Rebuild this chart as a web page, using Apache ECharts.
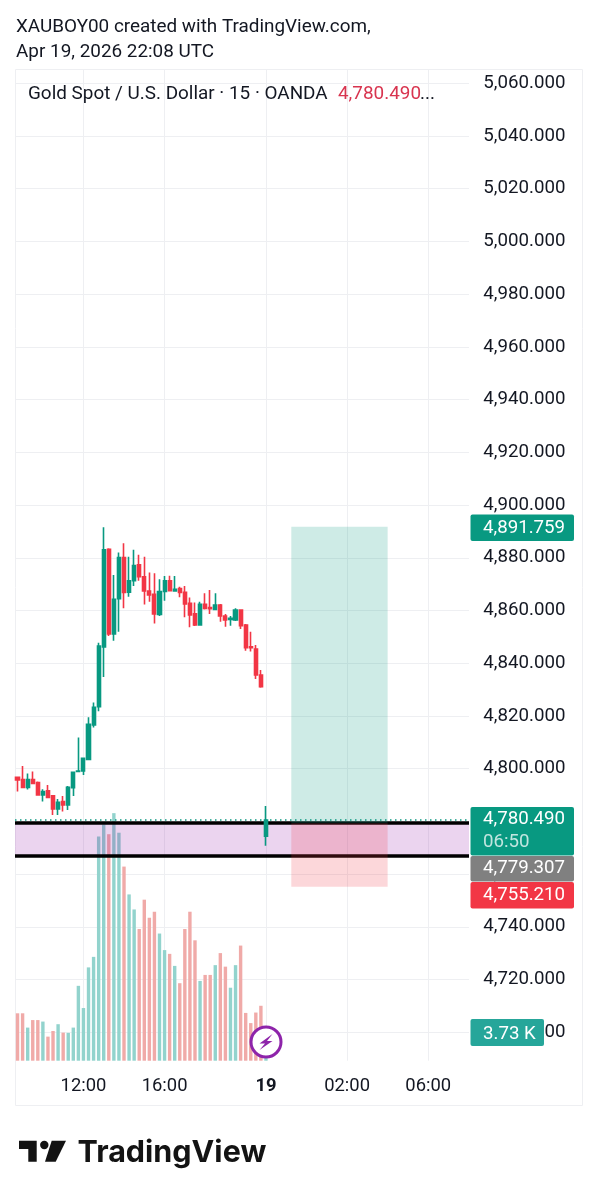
<!DOCTYPE html>
<html><head><meta charset="utf-8">
<style>html,body{margin:0;padding:0;background:#fff}#c{width:598px;height:1200px}</style>
<script src="https://cdn.jsdelivr.net/npm/echarts@6/dist/echarts.min.js"></script>
</head><body><div id="c"></div>
<script>
const opens=[4796.7,4795.9,4792.9,4795.9,4794.7,4790.0,4791.6,4789.7,4784.7,4787.5,4786.2,4792.8,4798.9,4799.1,4803.5,4816.6,4823.5,4846.2,4883.2,4851.1,4864.5,4880.1,4866.9,4871.3,4877.3,4872.8,4867.4,4866.1,4858.5,4867.2,4871.3,4867.4,4868.3,4866.9,4862.7,4858.7,4854.5,4862.3,4861.1,4860.4,4862.1,4857.9,4856.6,4856.4,4860.2,4854.5,4846.2,4845.4,4835.5,4774.4];
const closes=[4795.7,4792.9,4795.9,4794.4,4790.0,4791.3,4789.1,4784.7,4787.2,4786.2,4792.9,4798.6,4799.1,4803.9,4816.8,4823.3,4846.5,4883.0,4851.1,4864.2,4880.1,4866.8,4871.3,4877.0,4872.8,4867.4,4865.9,4858.7,4867.2,4871.3,4867.5,4868.0,4866.8,4862.5,4858.3,4854.5,4862.3,4860.8,4860.7,4862.1,4857.9,4856.4,4857.0,4860.2,4854.2,4845.9,4845.9,4835.5,4831.1,4780.49];
const lows=[4791.3,4792.9,4792.1,4794.2,4790.0,4787.5,4789.0,4782.4,4782.4,4783.7,4784.3,4789.6,4798.9,4797.6,4803.3,4815.6,4821.8,4834.8,4850.3,4848.5,4851.9,4860.8,4865.2,4869.3,4871.3,4862.3,4863.3,4855.1,4857.9,4863.7,4867.4,4867.4,4865.0,4857.4,4853.6,4854.1,4854.5,4860.4,4858.7,4860.2,4855.7,4853.8,4854.2,4856.0,4853.0,4844.7,4844.4,4834.0,4830.7,4770.7];
const highs=[4796.7,4801.0,4798.2,4798.9,4795.1,4792.2,4793.8,4789.7,4788.5,4789.6,4793.4,4798.9,4811.8,4803.9,4819.5,4825.1,4847.8,4891.6,4883.6,4873.5,4882.0,4885.5,4880.4,4883.0,4881.1,4880.4,4874.4,4874.1,4871.8,4873.1,4873.2,4873.1,4869.0,4869.3,4864.9,4863.0,4863.3,4866.5,4867.8,4866.5,4862.5,4858.7,4857.9,4860.8,4860.2,4854.9,4851.9,4846.9,4837.4,4785.8];
const volumes=[6300,6300,4400,5400,5400,5200,3200,3950,4850,3730,3700,4400,9950,7000,12400,13800,29800,31400,30100,32900,30300,25800,22100,20100,17500,21400,19000,19800,16900,14700,14200,12600,10300,17500,19800,16000,10600,11400,11400,12700,14300,12500,9700,12700,15300,6350,5000,6400,7300,3730];
const tickIndexes=[13,29,49,65,81];
const tickNames=['12:00','16:00','19','02:00','06:00'];
const priceTicks=[5060,5040,5020,5000,4980,4960,4940,4920,4900,4880,4860,4840,4820,4800,4780,4760,4740,4720,4700];
const lastPrice=4780.49, targetPrice=4891.759, entryPrice=4779.307, stopPrice=4755.21, zoneLow=4767.1;
const zoneFrom=54, zoneTo=73, categoryCount=90;

const UP='#089981',DOWN='#f23645',GRID='#eeeff2',INK='#131722',F='Roboto';
const categories=Array.from({length:categoryCount},(_,i)=>{const k=tickIndexes.indexOf(i);return k>=0?tickNames[k]:'';});
const candles=opens.map((o,i)=>[o,closes[i],lows[i],highs[i]]);
const volData=volumes.map((v,i)=>({value:v,itemStyle:{color:closes[i]>=opens[i]?'#92d3cd':'#f0aaa8'}}));

function txt(text,x,y,size,fill,extra){return {type:'text',z:110,silent:true,style:Object.assign({text,x,y,fill,font:`${size}px ${F}`,verticalAlign:'middle'},extra||{})};}
function rect(x,y,w,h,fill,r){return {type:'rect',z:100,silent:true,shape:{x,y,width:w,height:h,r:r||0},style:{fill}};}
const fmt=v=>v.toLocaleString('en-US',{minimumFractionDigits:3,maximumFractionDigits:3});

const graphic=[
 {type:'rect',z:-1,silent:true,shape:{x:15.5,y:69.5,width:567,height:1036},style:{fill:'none',stroke:GRID,lineWidth:1}},
 rect(469,70,3,991,'#ffffff'),
 txt('XAUBOY00 created with TradingView.com,',16,27,18.9,INK),
 txt('Apr 19, 2026 22:08 UTC',16,52,18.9,INK),
 txt('Gold Spot / U.S. Dollar · 15 · OANDA',28,94,18.9,INK),
 txt(fmt(lastPrice),338,94,18.9,'#d8344f'),
 txt('...',420,94,18.9,INK),
 rect(470.5,514.5,103.5,26.5,UP,2), txt(fmt(targetPrice),483,528,18.7,'#ffffff'),
 rect(470.5,807,103.5,48.5,UP,2), txt(fmt(lastPrice),483,819,18.7,'#ffffff'), txt('06:50',483,842,18.7,'rgba(255,255,255,0.75)'),
 rect(470.5,856,103.5,25.5,'#808080',2), txt(fmt(entryPrice),483,868.5,18.7,'#ffffff'),
 rect(470.5,882,103.5,26.5,'#f23645',2), txt(fmt(stopPrice),483,895,18.7,'#ffffff'),
 rect(470.5,1019,73.5,27,'#26a69a',2), txt('3.73 K',483,1034,18.7,'#ffffff'),
 {type:'circle',z:105,silent:true,shape:{cx:266,cy:1042,r:15},style:{fill:'#ffffff',stroke:'#8e24aa',lineWidth:3}},
 {type:'polygon',z:106,silent:true,shape:{points:[[272.5,1034],[259.5,1043.5],[265,1043.5],[259.5,1050],[272.5,1041],[267,1041]]},style:{fill:'#8e24aa'}},
 {type:'polygon',z:100,silent:true,shape:{points:[[19,1140.7],[36.7,1140.7],[36.7,1161.7],[28.3,1161.7],[28.3,1149],[19,1149]]},style:{fill:'#131313'}},
 {type:'circle',z:100,silent:true,shape:{cx:44.3,cy:1145,r:4.2},style:{fill:'#131313'}},
 {type:'polygon',z:100,silent:true,shape:{points:[[51.7,1140.7],[66,1140.7],[55.7,1161.7],[45,1161.7]]},style:{fill:'#131313'}},
 {type:'text',z:100,silent:true,style:{text:'TradingView',x:77.5,y:1153,fill:'#131313',font:`700 30.5px Inter`,verticalAlign:'middle'}}
];

const option={
 animation:false,backgroundColor:'#ffffff',
 grid:{left:15,top:69,width:456.3,height:991.7,containLabel:false},
 xAxis:{type:'category',data:categories,boundaryGap:true,
  axisLine:{show:false},axisTick:{show:false},splitLine:{show:false},
  axisLabel:{interval:i=>tickIndexes.includes(i),margin:17,color:INK,fontFamily:F,fontSize:18.4,
   formatter:v=>v==='19'?'{b|19}':v,rich:{b:{fontFamily:F,fontSize:18.4,fontWeight:'bold',color:INK}}}},
 yAxis:[
  {type:'value',position:'right',min:4689.2,max:5065.42,scale:true,z:0,
   axisLine:{show:false},axisTick:{show:false,customValues:priceTicks},
   splitLine:{show:true,lineStyle:{color:GRID,width:1}},
   axisLabel:{customValues:priceTicks,margin:12,padding:[2,0,0,0],color:INK,fontFamily:F,fontSize:18.7,formatter:v=>fmt(v)}},
  {type:'value',min:0,max:131800,show:false,splitLine:{show:false}}
 ],
 series:[
  {name:'gridlines',type:'line',data:[],z:0,
   markLine:{z:0,symbol:['none','none'],silent:true,label:{show:false},lineStyle:{color:GRID,width:1,type:'solid'},
    data:tickIndexes.map(i=>({xAxis:i}))}},
  {name:'volume',type:'bar',yAxisIndex:1,data:volData,barWidth:3.4,z:1},
  {name:'zone',type:'line',data:[],z:2,
   markArea:{z:2,silent:true,itemStyle:{color:'rgba(156,39,176,0.2)'},data:[[{yAxis:entryPrice},{yAxis:zoneLow}]]},
   markLine:{z:2,symbol:['none','none'],silent:true,label:{show:false},lineStyle:{color:'#000000',width:3.5,type:'solid'},
    data:[{yAxis:entryPrice},{yAxis:zoneLow}]}},
  {name:'price',type:'candlestick',data:candles,barWidth:3.6,z:3,
   itemStyle:{color:UP,color0:DOWN,borderColor:UP,borderColor0:DOWN,borderWidth:1.6}},
  {name:'target',type:'line',data:[],z:4,
   markArea:{z:4,silent:true,itemStyle:{color:'rgba(8,153,129,0.2)'},data:[[{xAxis:zoneFrom,yAxis:targetPrice},{xAxis:zoneTo,yAxis:entryPrice}]]}},
  {name:'stop',type:'line',data:[],z:4,
   markArea:{z:4,silent:true,itemStyle:{color:'rgba(242,54,69,0.2)'},data:[[{xAxis:zoneFrom,yAxis:entryPrice},{xAxis:zoneTo,yAxis:stopPrice}]]}},
  {name:'last',type:'line',data:[],z:5,
   markLine:{z:5,symbol:['none','none'],silent:true,label:{show:false},lineStyle:{color:UP,width:1.5,type:[1.5,3.5]},data:[{yAxis:lastPrice}]}}
 ],
 graphic:{elements:graphic}
};
const chart=echarts.init(document.getElementById('c'),null,{renderer:'canvas',width:598,height:1200});
chart.setOption(option);
</script></body></html>
